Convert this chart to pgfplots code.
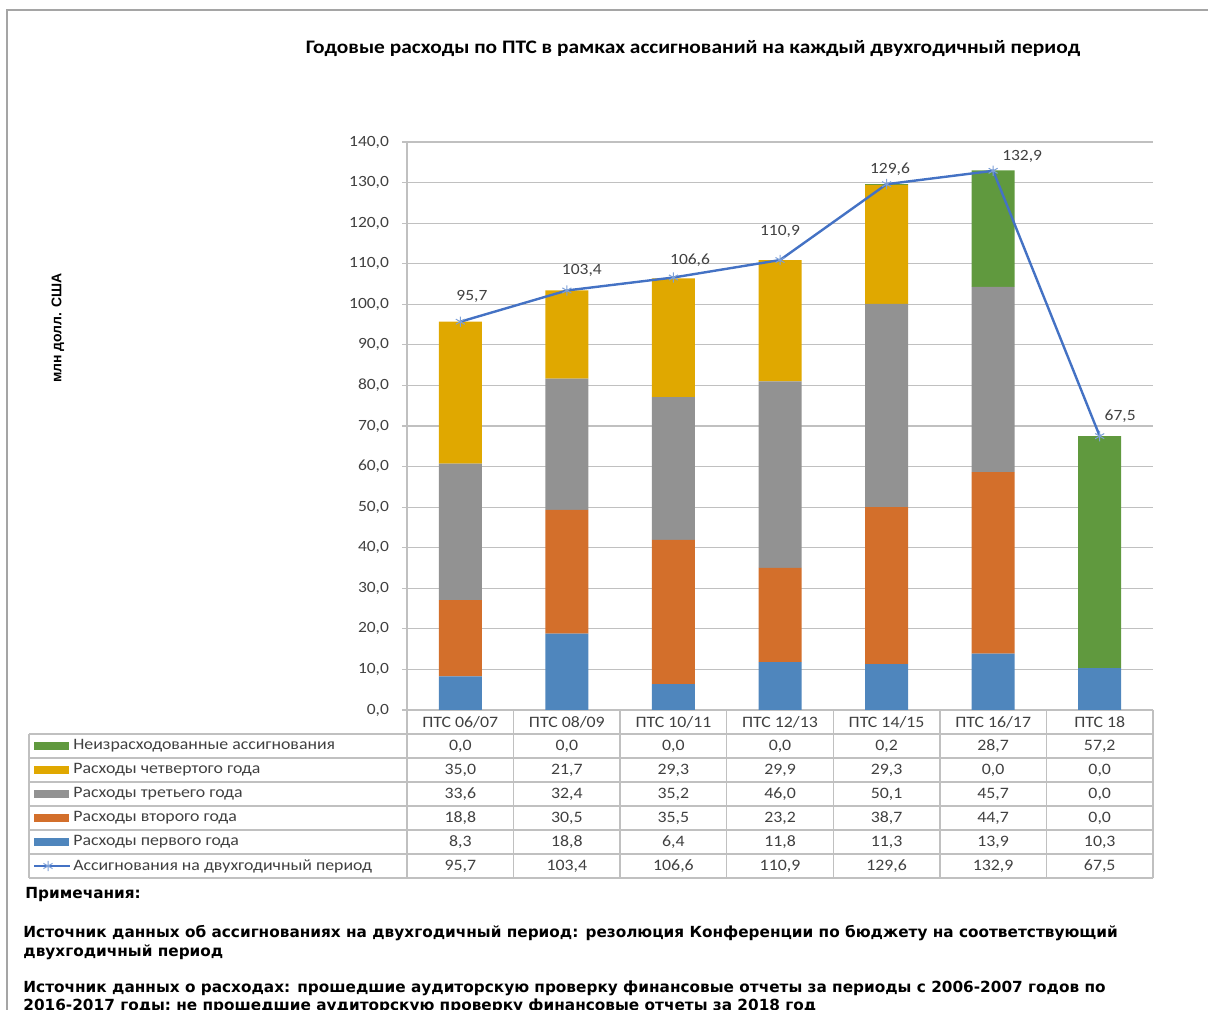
\documentclass[border=0pt]{standalone}
\usepackage{pgfplots}
\pgfplotsset{compat=1.18}
\usepackage{pgfplotstable}
\usepackage{fontspec}
\setmainfont{Carlito}[FakeStretch=1.12]
\newfontfamily\notefont{DejaVu Sans}
\newfontfamily\ylabfont{Liberation Sans}
\usetikzlibrary{plotmarks}

\definecolor{cfirst}{RGB}{79,134,189}
\definecolor{csecond}{RGB}{211,111,43}
\definecolor{cthird}{RGB}{146,146,146}
\definecolor{cfourth}{RGB}{224,168,0}
\definecolor{cunspent}{RGB}{96,153,62}
\definecolor{cline}{RGB}{68,114,196}
\definecolor{cmark}{RGB}{125,160,215}
\definecolor{cgrid}{RGB}{192,192,192}
\definecolor{ctext}{RGB}{64,64,64}

\pgfkeys{/pgf/number format/assume math mode=true}
\newcommand{\chartfont}{\fontsize{7.8pt}{9pt}\selectfont}
\newcommand{\tablefont}{\fontsize{7.95pt}{9pt}\selectfont}

% one row per biennium: spending by year, unspent, appropriation, label offsets (pt)
\pgfplotstableread{
x first second third fourth unspent approp dx dy
0 8.3  18.8 33.6 35.0 0.0  95.7  5.8  12.4
1 18.8 30.5 32.4 21.7 0.0  103.4 7.5  10.2
2 6.4  35.5 35.2 29.3 0.0  106.6 8.3  8.7
3 11.8 23.2 46.0 29.9 0.0  110.9 0.0  14.5
4 11.3 38.7 50.1 29.3 0.2  129.6 1.7  7.5
5 13.9 44.7 45.7 0.0  28.7 132.9 14.5 7.0
6 10.3 0.0  0.0  0.0  57.2 67.5  10.2 10.0
}\budget

\begin{document}
\begin{tikzpicture}
\useasboundingbox (0,0) rectangle (604pt,505pt);

% frame
\draw[color={rgb,255:red,165;green,165;blue,165}, line width=0.6pt]
  (3.5pt,0pt) -- (3.5pt,500pt) -- (604pt,500pt);

\begin{axis}[
    at={(203.5pt,150pt)}, anchor=south west,
    scale only axis, width=373pt, height=284pt,
    xmin=-0.5, xmax=6.5, ymin=0, ymax=140,
    ybar stacked, bar width=21.5pt,
    separate axis lines,
    axis x line=bottom, axis y line=left,
    axis line style={-, draw=cgrid, line width=0.9pt},
    ytick={0,10,...,140},
    xtick=data,
    xticklabels={ПТС 06/07,ПТС 08/09,ПТС 10/11,ПТС 12/13,ПТС 14/15,ПТС 16/17,ПТС 18},
    tick align=outside, major tick length=2.5pt,
    ytick style={draw=cgrid, line width=0.6pt},
    xtick style={draw=none},
    ymajorgrids, grid style={cgrid, line width=0.6pt},
    ticklabel style={font=\chartfont, text=ctext},
    xticklabel style={anchor=center, yshift=-3.5pt, font=\tablefont},
    yticklabel style={xshift=-3pt, /pgf/number format/.cd, fixed, fixed zerofill, precision=1, use comma},
    clip=false,
]
\addplot[fill=cfirst, draw=none] table[x=x, y=first] {\budget};
\addplot[fill=csecond, draw=none] table[x=x, y=second] {\budget};
\addplot[fill=cthird, draw=none] table[x=x, y=third] {\budget};
\addplot[fill=cfourth, draw=none] table[x=x, y=fourth] {\budget};
\addplot[fill=cunspent, draw=none] table[x=x, y=unspent] {\budget};
\end{axis}

\begin{axis}[
    at={(203.5pt,150pt)}, anchor=south west,
    scale only axis, width=373pt, height=284pt,
    xmin=-0.5, xmax=6.5, ymin=0, ymax=140,
    hide axis, clip=false,
]
\addplot[cline, line width=1.2pt, mark=asterisk, mark size=2.6pt,
    mark options={cmark, line width=0.5pt},
    point meta=y,
    visualization depends on={\thisrow{dx} \as \labdx},
    visualization depends on={\thisrow{dy} \as \labdy},
    nodes near coords={\pgfmathprintnumber[fixed, fixed zerofill, precision=1, use comma]{\pgfplotspointmeta}},
    every node near coord/.append style={anchor=center, xshift=\labdx pt, yshift=\labdy pt,
        font=\chartfont, text=ctext, inner sep=0pt},
] table[x=x, y=approp] {\budget};
\end{axis}

% data table
\begin{scope}[draw=cgrid, line width=0.75pt]
\foreach \yy in {138,126,114,102,90,78,66}
  \draw (14.5pt,\yy pt) -- (576.5pt,\yy pt);
\draw (14.5pt,138pt) -- (14.5pt,66pt);
\foreach \k in {0,...,7}
  \draw (203.5pt+\k*53.2857pt,150pt) -- (203.5pt+\k*53.2857pt,66pt);
\end{scope}

\foreach \i in {0,...,6} {
  \foreach \col/\yy in {unspent/132,fourth/120,third/108,second/96,first/84,approp/72} {
    \pgfplotstablegetelem{\i}{\col}\of\budget
    \node[font=\tablefont, text=ctext, inner sep=0pt]
      at (203.5pt+\i*53.2857pt+26.643pt, \yy pt)
      {\pgfmathprintnumber[fixed, fixed zerofill, precision=1, use comma]{\pgfplotsretval}};
  }
}

% row legend
\fill[cunspent] (17pt,129.8pt) rectangle (34.5pt,134.2pt);
\fill[cfourth]  (17pt,117.8pt) rectangle (34.5pt,122.2pt);
\fill[cthird]   (17pt,105.8pt) rectangle (34.5pt,110.2pt);
\fill[csecond]  (17pt,93.8pt)  rectangle (34.5pt,98.2pt);
\fill[cfirst]   (17pt,81.8pt)  rectangle (34.5pt,86.2pt);
\draw[cline, line width=1.2pt] (17pt,72pt) -- (35pt,72pt);
\draw[cmark, line width=0.5pt]
  (24pt,72pt) +(90:2.6pt) -- +(270:2.6pt)
  (24pt,72pt) +(30:2.6pt) -- +(210:2.6pt)
  (24pt,72pt) +(150:2.6pt) -- +(330:2.6pt);

\begin{scope}[every node/.style={anchor=west, font=\tablefont, text=ctext, inner sep=0pt}]
\node at (36.5pt,132pt) {Неизрасходованные ассигнования};
\node at (36.5pt,120pt) {Расходы четвертого года};
\node at (36.5pt,108pt) {Расходы третьего года};
\node at (36.5pt,96pt)  {Расходы второго года};
\node at (36.5pt,84pt)  {Расходы первого года};
\node at (36.5pt,72pt)  {Ассигнования на двухгодичный период};
\end{scope}

% title and axis label
\node[font=\fontsize{9.55pt}{11pt}\selectfont\bfseries, inner sep=0pt] at (346.5pt,480.5pt)
  {Годовые расходы по ПТС в рамках ассигнований на каждый двухгодичный период};
\node[font=\ylabfont\fontsize{7pt}{8pt}\selectfont\bfseries, rotate=90, inner sep=0pt] at (29pt,341pt)
  {млн долл. США};

% notes (the last line is cut by the lower edge, as in the source)
\begin{scope}[every node/.style={anchor=base west, inner sep=0pt,
    font=\notefont\fontsize{7.65pt}{9pt}\selectfont\bfseries}]
\node at (12.5pt,55.5pt) {Примечания:};
\node at (11.5pt,36pt) {Источник данных об ассигнованиях на двухгодичный период: резолюция Конференции по бюджету на соответствующий};
\node at (11.5pt,26.5pt) {двухгодичный период};
\node at (11.5pt,8.5pt) {Источник данных о расходах: прошедшие аудиторскую проверку финансовые отчеты за периоды с 2006-2007 годов по};
\node at (11.5pt,-0.5pt) {2016-2017 годы; не прошедшие аудиторскую проверку финансовые отчеты за 2018 год};
\end{scope}
\end{tikzpicture}
\end{document}
